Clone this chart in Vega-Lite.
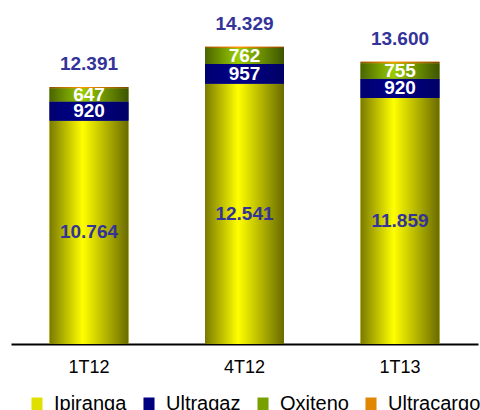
{
  "$schema": "https://vega.github.io/schema/vega-lite/v6.json",
  "width": 467,
  "height": 332,
  "autosize": {"type": "none"},
  "padding": {"left": 11, "top": 12, "right": 2, "bottom": 66},
  "background": "white",
  "datasets": {
    "segments": [
      {"period": "1T12", "company": "Ipiranga", "ord": 1, "value": 10764},
      {"period": "1T12", "company": "Ultragaz", "ord": 2, "value": 920},
      {"period": "1T12", "company": "Oxiteno", "ord": 3, "value": 647},
      {"period": "1T12", "company": "Ultracargo", "ord": 4, "value": 60},
      {"period": "4T12", "company": "Ipiranga", "ord": 1, "value": 12541},
      {"period": "4T12", "company": "Ultragaz", "ord": 2, "value": 957},
      {"period": "4T12", "company": "Oxiteno", "ord": 3, "value": 762},
      {"period": "4T12", "company": "Ultracargo", "ord": 4, "value": 69},
      {"period": "1T13", "company": "Ipiranga", "ord": 1, "value": 11859},
      {"period": "1T13", "company": "Ultragaz", "ord": 2, "value": 920},
      {"period": "1T13", "company": "Oxiteno", "ord": 3, "value": 755},
      {"period": "1T13", "company": "Ultracargo", "ord": 4, "value": 66}
    ],
    "totals": [
      {"period": "1T12", "total": 12391},
      {"period": "4T12", "total": 14329},
      {"period": "1T13", "total": 13600}
    ]
  },
  "encoding": {
    "x": {
      "field": "period",
      "type": "nominal",
      "sort": ["1T12", "4T12", "1T13"],
      "scale": {"paddingInner": 0.492, "paddingOuter": 0.2475},
      "axis": {
        "title": null,
        "labelAngle": 0,
        "ticks": false,
        "domainColor": "#000000",
        "domainWidth": 2,
        "domainOpacity": 1,
        "labelFont": "Liberation Sans",
        "labelFontSize": 18,
        "labelColor": "#000000",
        "labelPadding": 14,
        "grid": false
      }
    }
  },
  "layer": [
    {
      "data": {"name": "segments"},
      "transform": [
        {"stack": "value", "groupby": ["period"], "sort": [{"field": "ord", "order": "ascending"}], "as": ["v0", "v1"]}
      ],
      "mark": {"type": "bar", "strokeWidth": 0},
      "encoding": {
        "y": {"field": "v1", "type": "quantitative", "scale": {"domain": [0, 16000]}, "axis": null},
        "y2": {"field": "v0"},
        "color": {
          "field": "company",
          "type": "nominal",
          "sort": ["Ipiranga", "Ultragaz", "Oxiteno", "Ultracargo"],
          "scale": {
            "domain": ["Ipiranga", "Ultragaz", "Oxiteno", "Ultracargo"],
            "range": ["#e0e000", "#000080", "#77a000", "#e08600"]
          },
          "legend": {
            "title": null,
            "orient": "none",
            "legendX": 16,
            "legendY": 382,
            "direction": "horizontal",
            "columns": 4,
            "columnPadding": 12,
            "labelOffset": 7,
            "symbolType": "M-0.85,-1H0.85V1H-0.85Z",
            "symbolSize": 169,
            "symbolStrokeWidth": 0,
            "labelFont": "Liberation Sans",
            "labelFontSize": 20,
            "labelColor": "#000000",
            "padding": 0,
            "encode": {
              "symbols": {
                "update": {
                  "fill": {"value": {"expr": "datum.value === 'Ipiranga' ? {gradient: 'linear', x1: 0, y1: 0, x2: 1, y2: 0, stops: [{offset: 0, color: '#7a7a00'}, {offset: 1, color: '#ffff00'}]} : datum.value === 'Ultragaz' ? {gradient: 'linear', x1: 0, y1: 0, x2: 1, y2: 0, stops: [{offset: 0, color: '#000066'}, {offset: 1, color: '#000090'}]} : datum.value === 'Oxiteno' ? {gradient: 'linear', x1: 0, y1: 0, x2: 1, y2: 0, stops: [{offset: 0, color: '#4a6400'}, {offset: 1, color: '#99cc00'}]} : {gradient: 'linear', x1: 0, y1: 0, x2: 1, y2: 0, stops: [{offset: 0, color: '#8a5200'}, {offset: 1, color: '#ff9900'}]}"}}
                }
              }
            }
          }
        }
      }
    },
    {
      "data": {"name": "segments"},
      "transform": [
        {"stack": "value", "groupby": ["period"], "sort": [{"field": "ord", "order": "ascending"}], "as": ["v0", "v1"]},
        {"filter": "datum.company === 'Ipiranga'"}
      ],
      "mark": {"type": "bar", "strokeWidth": 0, "color": {"gradient": "linear", "x1": 0, "y1": 0, "x2": 1, "y2": 0, "stops": [{"offset": 0, "color": "#7a7a00"}, {"offset": 0.42, "color": "#ffff00"}, {"offset": 1, "color": "#6a6a00"}]}},
      "encoding": {
        "y": {"field": "v1", "type": "quantitative", "scale": {"domain": [0, 16000]}},
        "y2": {"field": "v0"}
      }
    },
    {
      "data": {"name": "segments"},
      "transform": [
        {"stack": "value", "groupby": ["period"], "sort": [{"field": "ord", "order": "ascending"}], "as": ["v0", "v1"]},
        {"filter": "datum.company === 'Ultragaz'"}
      ],
      "mark": {"type": "bar", "strokeWidth": 0, "color": {"gradient": "linear", "x1": 0, "y1": 0, "x2": 1, "y2": 0, "stops": [{"offset": 0, "color": "#000070"}, {"offset": 0.42, "color": "#000088"}, {"offset": 1, "color": "#000066"}]}},
      "encoding": {
        "y": {"field": "v1", "type": "quantitative", "scale": {"domain": [0, 16000]}},
        "y2": {"field": "v0"}
      }
    },
    {
      "data": {"name": "segments"},
      "transform": [
        {"stack": "value", "groupby": ["period"], "sort": [{"field": "ord", "order": "ascending"}], "as": ["v0", "v1"]},
        {"filter": "datum.company === 'Oxiteno'"}
      ],
      "mark": {"type": "bar", "strokeWidth": 0, "color": {"gradient": "linear", "x1": 0, "y1": 0, "x2": 1, "y2": 0, "stops": [{"offset": 0, "color": "#4a6400"}, {"offset": 0.42, "color": "#99cc00"}, {"offset": 1, "color": "#3e5400"}]}},
      "encoding": {
        "y": {"field": "v1", "type": "quantitative", "scale": {"domain": [0, 16000]}},
        "y2": {"field": "v0"}
      }
    },
    {
      "data": {"name": "segments"},
      "transform": [
        {"stack": "value", "groupby": ["period"], "sort": [{"field": "ord", "order": "ascending"}], "as": ["v0", "v1"]},
        {"filter": "datum.company === 'Ultracargo'"}
      ],
      "mark": {"type": "bar", "strokeWidth": 0, "color": {"gradient": "linear", "x1": 0, "y1": 0, "x2": 1, "y2": 0, "stops": [{"offset": 0, "color": "#8a5200"}, {"offset": 0.42, "color": "#ff9900"}, {"offset": 1, "color": "#7a4800"}]}},
      "encoding": {
        "y": {"field": "v1", "type": "quantitative", "scale": {"domain": [0, 16000]}},
        "y2": {"field": "v0"}
      }
    },
    {
      "data": {"name": "segments"},
      "transform": [
        {"stack": "value", "groupby": ["period"], "sort": [{"field": "ord", "order": "ascending"}], "as": ["v0", "v1"]},
        {"calculate": "(datum.v0 + datum.v1) / 2", "as": "vmid"},
        {"filter": "datum.company !== 'Ultracargo'"}
      ],
      "mark": {"type": "text", "font": "Liberation Sans", "fontWeight": "bold", "fontSize": 19, "baseline": "middle", "align": "center"},
      "encoding": {
        "y": {"field": "vmid", "type": "quantitative", "scale": {"domain": [0, 16000]}},
        "text": {"field": "value", "type": "quantitative", "format": ",d"},
        "fill": {"condition": {"test": "datum.company === 'Ipiranga'", "value": "#333399"}, "value": "#ffffff"}
      }
    },
    {
      "data": {"name": "totals"},
      "mark": {"type": "text", "font": "Liberation Sans", "fontWeight": "bold", "fontSize": 19, "baseline": "alphabetic", "align": "center", "dy": -17, "color": "#333399"},
      "encoding": {
        "y": {"field": "total", "type": "quantitative", "scale": {"domain": [0, 16000]}},
        "text": {"field": "total", "type": "quantitative", "format": ",d"}
      }
    }
  ],
  "config": {
    "view": {"stroke": null},
    "locale": {"number": {"decimal": ",", "thousands": ".", "grouping": [3], "currency": ["R$", ""]}}
  }
}
